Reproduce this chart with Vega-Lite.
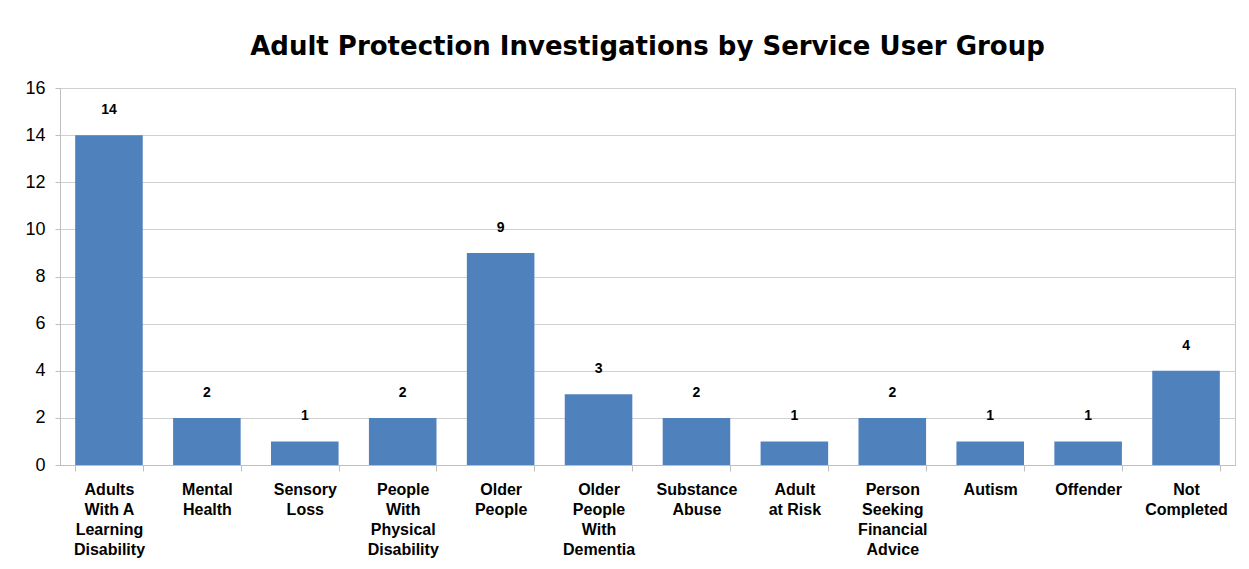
{
  "$schema": "https://vega.github.io/schema/vega-lite/v6.json",
  "width": 1175,
  "height": 377,
  "autosize": {"type": "none"},
  "padding": {"left": 60, "top": 88, "right": 14, "bottom": 104},
  "background": "white",
  "title": {
    "text": "Adult Protection Investigations by Service User Group",
    "font": "DejaVu Sans",
    "fontSize": 26,
    "fontWeight": "bold",
    "color": "#000000",
    "anchor": "middle",
    "offset": 19
  },
  "data": {
    "values": [
      {"group": "Adults|With A|Learning|Disability", "count": 14},
      {"group": "Mental|Health", "count": 2},
      {"group": "Sensory|Loss", "count": 1},
      {"group": "People|With|Physical|Disability", "count": 2},
      {"group": "Older|People", "count": 9},
      {"group": "Older|People|With|Dementia", "count": 3},
      {"group": "Substance|Abuse", "count": 2},
      {"group": "Adult|at Risk", "count": 1},
      {"group": "Person|Seeking|Financial|Advice", "count": 2},
      {"group": "Autism", "count": 1},
      {"group": "Offender", "count": 1},
      {"group": "Not|Completed", "count": 4}
    ]
  },
  "config": {
    "view": {"stroke": "#c8c8c8", "strokeWidth": 1},
    "font": "Liberation Sans"
  },
  "encoding": {
    "x": {
      "field": "group",
      "type": "nominal",
      "sort": null,
      "scale": {"paddingInner": 0.31, "paddingOuter": 0.155},
      "axis": {
        "title": null,
        "labelAngle": 0,
        "labelExpr": "split(datum.label, '|')",
        "labelFont": "Liberation Sans",
        "labelFontSize": 16,
        "labelFontWeight": "bold",
        "labelColor": "#000000",
        "labelLineHeight": 20,
        "labelBaseline": "top",
        "labelPadding": 10,
        "tickBand": "extent",
        "tickSize": 6,
        "tickColor": "#bfbfbf",
        "domainColor": "#bfbfbf",
        "labelLimit": 200
      }
    },
    "y": {
      "field": "count",
      "type": "quantitative",
      "scale": {"domain": [0, 16]},
      "axis": {
        "title": null,
        "values": [0, 2, 4, 6, 8, 10, 12, 14, 16],
        "labelOverlap": false,
        "labelFont": "Liberation Sans",
        "labelFontSize": 18,
        "labelColor": "#000000",
        "labelPadding": 10,
        "tickSize": 5,
        "tickColor": "#bfbfbf",
        "domainColor": "#bfbfbf",
        "gridColor": "#d0d0d0"
      }
    }
  },
  "layer": [
    {"mark": {"type": "bar", "color": "#4F81BD"}},
    {
      "mark": {
        "type": "text",
        "dy": -25,
        "baseline": "middle",
        "font": "Liberation Sans",
        "fontSize": 14,
        "fontWeight": "bold",
        "color": "#000000"
      },
      "encoding": {"text": {"field": "count", "type": "quantitative"}}
    }
  ]
}
